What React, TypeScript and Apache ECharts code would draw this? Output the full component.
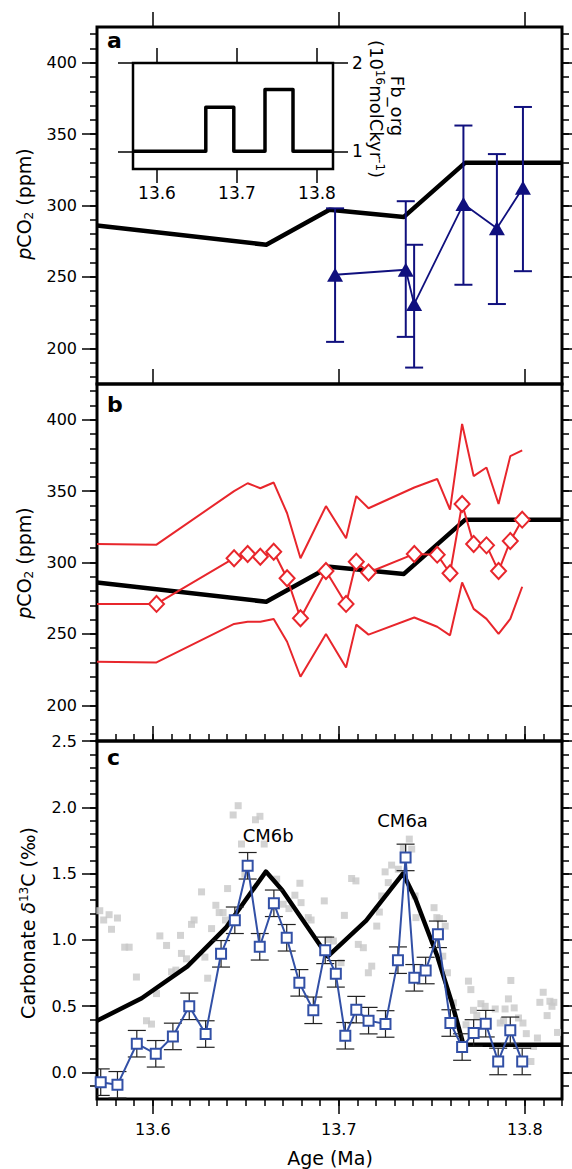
import React, { useEffect, useRef } from "react";
import * as echarts from "echarts";

// ---------------- axes: ranges and ticks ----------------
const ageRange = [13.57, 13.82];
const ageMajorTicks = [13.6, 13.7, 13.8];
const ageMinorTicks = [
  13.57, 13.58, 13.59, 13.6, 13.61, 13.62, 13.63, 13.64, 13.65, 13.66, 13.67, 13.68, 13.69,
  13.7, 13.71, 13.72, 13.73, 13.74, 13.75, 13.76, 13.77, 13.78, 13.79, 13.8, 13.81, 13.82,
];
const pco2Range = [175, 425];
const pco2MajorTicks = [200, 250, 300, 350, 400];
const pco2MinorTicks = [
  180, 190, 200, 210, 220, 230, 240, 250, 260, 270, 280, 290, 300, 310, 320, 330, 340, 350,
  360, 370, 380, 390, 400, 410, 420,
];
const d13cRange = [-0.2, 2.5];
const d13cMajorTicks = [0, 0.5, 1, 1.5, 2, 2.5];
const d13cMinorTicks = [
  -0.1, 0, 0.1, 0.2, 0.3, 0.4, 0.5, 0.6, 0.7, 0.8, 0.9, 1, 1.1, 1.2, 1.3, 1.4, 1.5, 1.6, 1.7,
  1.8, 1.9, 2, 2.1, 2.2, 2.3, 2.4, 2.5,
];
const fbRange = [0.8, 2];
const fbTicks = [1, 2];

// ---------------- inset: organic carbon burial flux ----------------
const fbAges = [13.57, 13.661, 13.696, 13.735, 13.77, 13.82];
const fbValues = [1, 1.5, 1, 1.7, 1, 1];

// ---------------- model pCO2 (black line, panels a & b) ----------------
const modelAges = [13.57, 13.661, 13.695, 13.735, 13.768, 13.82];
const modelPco2 = [286, 272.5, 297, 292, 330, 330];

// ---------------- panel a: proxy pCO2 (triangles) ----------------
const triAges = [13.698, 13.736, 13.7405, 13.767, 13.785, 13.799];
const triPco2 = [251.5, 255, 231, 301, 284, 312.5];
const triHigh = [298, 303, 272.5, 356, 336, 369];
const triLow = [204.5, 208, 186.5, 244.5, 231, 254];

// ---------------- panel b: proxy pCO2 (diamonds + envelope) ----------------
const redAges = [
  13.57, 13.602, 13.6437, 13.651, 13.6578, 13.665, 13.6722, 13.6794, 13.6931, 13.7039, 13.7094,
  13.716, 13.7406, 13.7529, 13.7598, 13.7663, 13.7725, 13.7794, 13.7859, 13.7922, 13.7986,
];
const redMid = [
  271, 271, 303, 306, 304, 307.5, 289, 261, 294, 271, 300.5, 293, 306, 305.5, 292.5, 341, 313,
  312, 294, 315, 330,
];
const redUpper = [
  313, 312.5, 350, 355.5, 352, 356, 334.5, 303, 339.5, 317, 346.5, 338, 352.5, 358.5, 337, 397,
  360.5, 366.5, 341, 374.5, 378.5,
];
const redLower = [
  230.5, 230, 257, 258.5, 258.5, 260.5, 244.5, 220, 250, 226.5, 256.5, 249.5, 261.5, 255, 249,
  286, 267.5, 260.5, 250, 260.5, 283,
];

// ---------------- panel c: carbonate d13C ----------------
const modelD13cAges = [
  13.57, 13.594, 13.6186, 13.6392, 13.6608, 13.6696, 13.6941, 13.7147, 13.7345, 13.7412, 13.7529,
  13.7608, 13.767, 13.82,
];
const modelD13c = [0.39, 0.56, 0.8, 1.09, 1.515, 1.375, 0.875, 1.145, 1.5, 1.31, 0.88, 0.525, 0.21, 0.21];

const blueAges = [
  13.572, 13.581, 13.5914, 13.6016, 13.6108, 13.6196, 13.6284, 13.6367, 13.6441, 13.651,
  13.6575, 13.6651, 13.672, 13.6788, 13.6863, 13.6927, 13.6984, 13.7035, 13.7094, 13.716,
  13.7251, 13.7318, 13.7359, 13.7406, 13.7467, 13.7533, 13.76, 13.7663, 13.7725, 13.779,
  13.7857, 13.7922, 13.7986,
];
const blueD13c = [
  -0.073, -0.093, 0.217, 0.141, 0.272, 0.499, 0.29, 0.895, 1.148, 1.559, 0.948, 1.276, 1.016,
  0.676, 0.469, 0.921, 0.744, 0.277, 0.474, 0.391, 0.366, 0.847, 1.622, 0.714, 0.769, 1.042,
  0.373, 0.192, 0.298, 0.368, 0.083, 0.318, 0.083,
];
const blueErr = [
  0.1, 0.1, 0.1, 0.1, 0.1, 0.1, 0.1, 0.1, 0.1, 0.1, 0.1, 0.1, 0.1, 0.1, 0.1, 0.1, 0.1, 0.1, 0.1,
  0.1, 0.1, 0.1, 0.1, 0.1, 0.1, 0.1, 0.1, 0.1, 0.1, 0.1, 0.1, 0.1, 0.1,
];

const greyAges = [
  13.5715, 13.5736, 13.5765, 13.581, 13.5778, 13.5849, 13.5873, 13.5912, 13.5966, 13.5993,
  13.602, 13.6038, 13.6074, 13.6101, 13.6124, 13.6149, 13.6154, 13.6181, 13.6208, 13.6222,
  13.6262, 13.628, 13.6295, 13.6316, 13.6339, 13.6357, 13.6459, 13.6432, 13.6552, 13.6576,
  13.6477, 13.6599, 13.6402, 13.6378, 13.6391, 13.6495, 13.6666, 13.6791, 13.6764, 13.6797,
  13.6922, 13.6701, 13.6732, 13.6836, 13.6851, 13.6944, 13.6971, 13.703, 13.7012, 13.7069,
  13.7092, 13.7105, 13.7132, 13.7159, 13.7177, 13.7204, 13.7218, 13.7231, 13.7249, 13.7266,
  13.7284, 13.732, 13.7347, 13.7379, 13.7392, 13.741, 13.7415, 13.7512, 13.7527, 13.7541,
  13.7572, 13.7584, 13.7616, 13.7559, 13.7697, 13.771, 13.7724, 13.7742, 13.7764, 13.7787,
  13.7841, 13.7868, 13.7886, 13.7894, 13.7912, 13.7925, 13.7943, 13.7966, 13.799, 13.8008,
  13.8033, 13.8068, 13.8047, 13.8081, 13.8099, 13.812, 13.8135, 13.8156, 13.8146, 13.8176,
  13.762, 13.7684,
];
const greyD13c = [
  1.22, 1.15, 1.19, 1.165, 1.08, 0.945, 0.945, 0.72, 0.39, 0.365, 0.595, 1.03, 0.958, 0.759,
  0.772, 1.034, 0.898, 0.857, 1.117, 1.15, 1.362, 0.87, 0.711, 1.085, 1.261, 1.206, 2.012,
  1.942, 1.906, 1.932, 1.723, 1.723, 1.387, 1.206, 1.15, 1.496, 1.458, 1.427, 1.337, 1.281,
  1.294, 1.269, 1.236, 1.168, 1.15, 1.004, 0.991, 1.185, 0.828, 1.463, 1.445, 0.966, 0.941,
  0.752, 0.802, 1.104, 1.21, 1.331, 1.513, 1.432, 1.564, 1.533, 1.69, 1.76, 1.685, 1.331,
  1.168, 1.243, 1.168, 1.16, 1.104, 0.752, 0.525, 0.877, 0.689, 0.625, 0.469, 0.429, 0.519,
  0.499, 0.479, 0.373, 0.391, 0.479, 0.555, 0.694, 0.487, 0.411, 0.373, 0.293, 0.083, 0.26,
  0.196, 0.529, 0.605, 0.429, 0.537, 0.529, 0.499, 0.302, 0.373, 0.36,
];

const eventNames = ["CM6b", "CM6a"];
const eventAges = [13.662, 13.7343];
const eventD13c = [1.786, 1.9];

// ---------------- styling ----------------
const FONT = "'DejaVu Sans', 'Liberation Sans', sans-serif";
const NAVY = "#10107e";
const RED = "#e8262c";
const BLUE = "#3250a6";
const GREY = "#c8c8c8";
const TICK_FONT = 16;

const zip = (xs: number[], ys: number[]) => xs.map((x, i) => [x, ys[i]]);

function xAx(gridIndex: number, position: string, range: number[], ticks: number[], len: number, label?: { margin: number; size: number }) {
  return {
    type: "value",
    gridIndex,
    position,
    min: range[0],
    max: range[1],
    axisLine: { show: false, onZero: false },
    splitLine: { show: false },
    axisTick: { show: true, inside: false, length: len, customValues: ticks, lineStyle: { color: "#000", width: 1.5 } },
    axisLabel: label
      ? {
          show: true,
          customValues: ticks,
          margin: label.margin,
          fontSize: label.size,
          fontFamily: FONT,
          color: "#000",
          formatter: (v: number) => v.toFixed(1),
        }
      : { show: false },
  };
}

function yAx(gridIndex: number, position: string, range: number[], ticks: number[], len: number, label?: { margin: number; size: number; digits: number }) {
  return {
    type: "value",
    gridIndex,
    position,
    min: range[0],
    max: range[1],
    axisLine: { show: false, onZero: false },
    splitLine: { show: false },
    axisTick: { show: true, inside: false, length: len, customValues: ticks, lineStyle: { color: "#000", width: 1.5 } },
    axisLabel: label
      ? {
          show: true,
          customValues: ticks,
          margin: label.margin,
          fontSize: label.size,
          fontFamily: FONT,
          color: "#000",
          formatter: (v: number) => v.toFixed(label.digits),
        }
      : { show: false },
  };
}

const errorBars = (color: string, width: number, cap: number) => (params: any, api: any) => {
  const x = api.value(0);
  const lo = api.coord([x, api.value(1)]);
  const hi = api.coord([x, api.value(2)]);
  const style = { stroke: color, lineWidth: width, fill: null };
  return {
    type: "group",
    children: [
      { type: "line", shape: { x1: lo[0], y1: lo[1], x2: hi[0], y2: hi[1] }, style },
      { type: "line", shape: { x1: lo[0] - cap, y1: lo[1], x2: lo[0] + cap, y2: lo[1] }, style },
      { type: "line", shape: { x1: hi[0] - cap, y1: hi[1], x2: hi[0] + cap, y2: hi[1] }, style },
    ],
  };
};

const rich = (size: number, small: number) => ({
  n: { fontFamily: FONT, fontSize: size, lineHeight: size + 2, fill: "#000" },
  i: { fontFamily: FONT, fontSize: size, fontStyle: "italic", lineHeight: size + 2, fill: "#000" },
  s: { fontFamily: FONT, fontSize: small, lineHeight: small - 1, verticalAlign: "bottom", fill: "#000" },
  p: { fontFamily: FONT, fontSize: small, lineHeight: small - 1, verticalAlign: "top", fill: "#000" },
});

const titleText = (text: string, x: number, y: number, rotation: number, size: number, small: number) => ({
  type: "text",
  x,
  y,
  rotation,
  style: {
    text,
    rich: rich(size, small),
    fontFamily: FONT,
    fontSize: size,
    align: "center",
    verticalAlign: "middle",
    fill: "#000",
  },
  z: 10,
});

function buildOption() {
  const gridBase = { show: true, borderColor: "#000", borderWidth: 3, backgroundColor: "transparent", containLabel: false, outerBoundsMode: "none" };
  const grids = [
    { ...gridBase, left: 97, top: 27, width: 465, height: 357 },
    { ...gridBase, left: 97, top: 384, width: 465, height: 357 },
    { ...gridBase, left: 97, top: 741, width: 465, height: 358 },
    { ...gridBase, left: 133, top: 63, width: 200, height: 106, borderWidth: 2.5 },
  ];

  const xAxes = [
    xAx(0, "top", ageRange, ageMajorTicks, 15), // 0
    xAx(1, "top", ageRange, ageMajorTicks, 15), // 1
    xAx(2, "top", ageRange, ageMajorTicks, 15), // 2
    xAx(2, "top", ageRange, ageMinorTicks, 7), // 3
    xAx(2, "bottom", ageRange, ageMajorTicks, 15, { margin: 22, size: TICK_FONT }), // 4
    xAx(2, "bottom", ageRange, ageMinorTicks, 7), // 5
    xAx(3, "top", ageRange, ageMajorTicks, 15), // 6
    xAx(3, "bottom", ageRange, ageMajorTicks, 14, { margin: 15, size: 17 }), // 7
  ];

  const yAxes = [
    yAx(0, "left", pco2Range, pco2MajorTicks, 15, { margin: 20, size: TICK_FONT, digits: 0 }), // 0
    yAx(0, "left", pco2Range, pco2MinorTicks, 7), // 1
    yAx(0, "right", pco2Range, pco2MajorTicks, 15), // 2
    yAx(0, "right", pco2Range, pco2MinorTicks, 7), // 3
    yAx(1, "left", pco2Range, pco2MajorTicks, 15, { margin: 20, size: TICK_FONT, digits: 0 }), // 4
    yAx(1, "left", pco2Range, pco2MinorTicks, 7), // 5
    yAx(1, "right", pco2Range, pco2MajorTicks, 15), // 6
    yAx(1, "right", pco2Range, pco2MinorTicks, 7), // 7
    yAx(2, "left", d13cRange, d13cMajorTicks, 15, { margin: 20, size: TICK_FONT, digits: 1 }), // 8
    yAx(2, "left", d13cRange, d13cMinorTicks, 7), // 9
    yAx(2, "right", d13cRange, d13cMajorTicks, 15), // 10
    yAx(2, "right", d13cRange, d13cMinorTicks, 7), // 11
    yAx(3, "left", fbRange, fbTicks, 15), // 12
    yAx(3, "right", fbRange, fbTicks, 15, { margin: 19, size: 17, digits: 0 }), // 13
  ];

  const blackLine = (xi: number, yi: number, data: number[][]) => ({
    type: "line",
    xAxisIndex: xi,
    yAxisIndex: yi,
    data,
    showSymbol: false,
    symbol: "none",
    lineStyle: { color: "#000", width: 4.5, join: "round" },
    z: 3,
    silent: true,
  });

  const redLine = (data: number[][]) => ({
    type: "line",
    xAxisIndex: 1,
    yAxisIndex: 4,
    data,
    showSymbol: false,
    symbol: "none",
    lineStyle: { color: RED, width: 2 },
    z: 2,
  });

  const series: any[] = [
    // panel a
    blackLine(0, 0, zip(modelAges, modelPco2)),
    {
      type: "custom",
      xAxisIndex: 0,
      yAxisIndex: 0,
      clip: true,
      renderItem: errorBars(NAVY, 2, 9),
      encode: { x: 0, y: [1, 2] },
      data: triAges.map((a, i) => [a, triLow[i], triHigh[i]]),
      z: 4,
    },
    {
      type: "line",
      xAxisIndex: 0,
      yAxisIndex: 0,
      data: zip(triAges, triPco2),
      symbol: "triangle",
      symbolSize: [16, 14],
      showAllSymbol: true,
      itemStyle: { color: NAVY },
      lineStyle: { color: NAVY, width: 1.8 },
      z: 5,
    },
    // inset
    {
      type: "line",
      xAxisIndex: 6,
      yAxisIndex: 12,
      step: "end",
      data: zip(fbAges, fbValues),
      showSymbol: false,
      symbol: "none",
      lineStyle: { color: "#000", width: 3.5, join: "round" },
      z: 3,
    },
    // panel b
    redLine(zip(redAges, redUpper)),
    redLine(zip(redAges, redLower)),
    blackLine(1, 4, zip(modelAges, modelPco2)),
    {
      type: "line",
      xAxisIndex: 1,
      yAxisIndex: 4,
      data: redAges.map((a, i) => (i === 0 ? { value: [a, redMid[i]], symbol: "none" } : [a, redMid[i]])),
      symbol: "diamond",
      symbolSize: [15, 16],
      showAllSymbol: true,
      itemStyle: { color: "#fff", borderColor: RED, borderWidth: 2 },
      lineStyle: { color: RED, width: 2 },
      z: 5,
    },
    // panel c
    {
      type: "scatter",
      xAxisIndex: 4,
      yAxisIndex: 8,
      data: zip(greyAges, greyD13c),
      symbol: "rect",
      symbolSize: 7,
      itemStyle: { color: GREY },
      z: 1,
    },
    blackLine(4, 8, zip(modelD13cAges, modelD13c)),
    {
      type: "custom",
      xAxisIndex: 4,
      yAxisIndex: 8,
      clip: true,
      renderItem: errorBars("#222", 1.2, 9),
      encode: { x: 0, y: [1, 2] },
      data: blueAges.map((a, i) => [a, blueD13c[i] - blueErr[i], blueD13c[i] + blueErr[i]]),
      z: 4,
    },
    {
      type: "line",
      xAxisIndex: 4,
      yAxisIndex: 8,
      data: zip(blueAges, blueD13c),
      symbol: "rect",
      symbolSize: 10,
      showAllSymbol: true,
      itemStyle: { color: "#fff", borderColor: BLUE, borderWidth: 2 },
      lineStyle: { color: BLUE, width: 2 },
      z: 5,
    },
    {
      type: "scatter",
      xAxisIndex: 4,
      yAxisIndex: 8,
      data: eventNames.map((n, i) => ({ name: n, value: [eventAges[i], eventD13c[i]] })),
      symbol: "circle",
      symbolSize: 1,
      itemStyle: { color: "rgba(0,0,0,0)" },
      label: {
        show: true,
        position: "inside",
        formatter: (p: any) => p.name,
        fontFamily: FONT,
        fontSize: 18,
        color: "#000",
        textBorderWidth: 0,
        textBorderColor: "transparent",
        opacity: 1,
      },
      emphasis: { disabled: true },
      z: 6,
    },
  ];

  const panelLabel = (t: string, y: number) => ({
    type: "text",
    x: 107,
    y,
    style: { text: t, fontFamily: FONT, fontSize: 22, fontWeight: "bold", fill: "#000", align: "left", verticalAlign: "middle" },
    z: 10,
  });

  const graphic = [
    panelLabel("a", 40.5),
    panelLabel("b", 404.5),
    panelLabel("c", 757.5),
    titleText("{i|p}{n|CO}{s|2}{n| (ppm)}", 24, 204, Math.PI / 2, 19, 12),
    titleText("{i|p}{n|CO}{s|2}{n| (ppm)}", 24, 563, Math.PI / 2, 19, 12),
    titleText("{n|Carbonate }{i|δ}{p|13}{n|C (‰)}", 28, 923, Math.PI / 2, 19, 12),
    titleText("{n|Age (Ma)}", 330, 1158, 0, 19, 12),
    titleText("{n|Fb_org}", 397, 106, -Math.PI / 2, 18, 12),
    titleText("{n|(10}{p|16}{n|molCkyr}{p|-1}{n|)}", 376, 109, -Math.PI / 2, 18, 12),
  ];

  return {
    animation: false,
    backgroundColor: "#fff",
    textStyle: { fontFamily: FONT },
    grid: grids,
    xAxis: xAxes,
    yAxis: yAxes,
    series,
    graphic,
  };
}

export default function App() {
  const ref = useRef<HTMLDivElement>(null);
  useEffect(() => {
    if (!ref.current) return;
    const chart = echarts.init(ref.current, null, { renderer: "svg" });
    chart.setOption(buildOption() as any);
    return () => chart.dispose();
  }, []);
  return <div ref={ref} style={{ position: "absolute", left: 0, top: 0, width: 572, height: 1169 }} />;
}
